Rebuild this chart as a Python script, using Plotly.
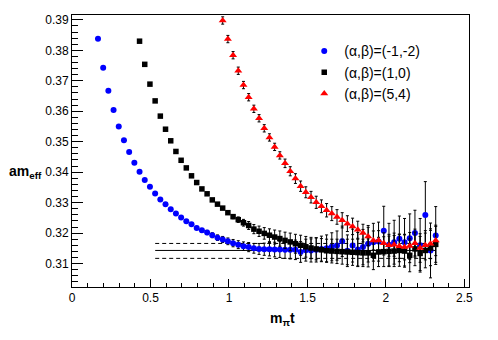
import plotly.graph_objects as go

# m_pi * t for timeslices t = 5 .. 70
mpi_t = [0.1655, 0.1986, 0.2317, 0.2648, 0.2979, 0.3310, 0.3641, 0.3972, 0.4303, 0.4634,
         0.4965, 0.5296, 0.5627, 0.5958, 0.6289, 0.6620, 0.6951, 0.7282, 0.7613, 0.7944,
         0.8275, 0.8606, 0.8937, 0.9268, 0.9599, 0.9930, 1.0261, 1.0592, 1.0923, 1.1254,
         1.1585, 1.1916, 1.2247, 1.2578, 1.2909, 1.3240, 1.3571, 1.3902, 1.4233, 1.4564,
         1.4895, 1.5226, 1.5557, 1.5888, 1.6219, 1.6550, 1.6881, 1.7212, 1.7543, 1.7874,
         1.8205, 1.8536, 1.8867, 1.9198, 1.9529, 1.9860, 2.0191, 2.0522, 2.0853, 2.1184,
         2.1515, 2.1846, 2.2177, 2.2508, 2.2839, 2.3170]

# (alpha,beta)=(-1,-2): t = 5 .. 70
blue_y = [0.3838, 0.3743, 0.3667, 0.3604, 0.3550, 0.3505, 0.3466, 0.3431, 0.3401, 0.3374,
          0.3352, 0.3330, 0.3310, 0.3295, 0.3278, 0.3264, 0.3251, 0.3239, 0.3229, 0.3217,
          0.3209, 0.3202, 0.3193, 0.3185, 0.3179, 0.3173, 0.3167, 0.3162, 0.3157, 0.3154,
          0.3150, 0.3148, 0.3147, 0.3147, 0.3146, 0.3146, 0.3145, 0.3145, 0.3145, 0.3138,
          0.3144, 0.3143, 0.3145, 0.3148, 0.3150, 0.3155, 0.3159, 0.3173, 0.3142, 0.3159,
          0.3146, 0.3154, 0.3165, 0.3170, 0.3172, 0.3208, 0.3162, 0.3170, 0.3181, 0.3170,
          0.3183, 0.3200, 0.3160, 0.3259, 0.3143, 0.3192]
blue_err = [0.0002, 0.0002, 0.0002, 0.0002, 0.0002, 0.0002, 0.0002, 0.0002, 0.0002, 0.0002,
            0.0002, 0.0002, 0.0002, 0.0002, 0.0002, 0.0002, 0.0002, 0.0002, 0.0004, 0.0005,
            0.0006, 0.0007, 0.0008, 0.0009, 0.0010, 0.0011, 0.0012, 0.0013, 0.0014, 0.0015,
            0.0016, 0.0018, 0.0020, 0.0022, 0.0024, 0.0026, 0.0028, 0.0030, 0.0032, 0.0034,
            0.0036, 0.0038, 0.0040, 0.0042, 0.0044, 0.0046, 0.0048, 0.0050, 0.0052, 0.0054,
            0.0056, 0.0058, 0.0060, 0.0062, 0.0064, 0.0080, 0.0070, 0.0072, 0.0075, 0.0078,
            0.0080, 0.0075, 0.0088, 0.0110, 0.0090, 0.0095]

# (alpha,beta)=(1,0): t = 13 .. 70
black_y = [0.3830, 0.3754, 0.3689, 0.3634, 0.3584, 0.3541, 0.3503, 0.3468, 0.3439, 0.3414,
           0.3388, 0.3366, 0.3345, 0.3329, 0.3309, 0.3295, 0.3282, 0.3267, 0.3254, 0.3244,
           0.3234, 0.3225, 0.3213, 0.3206, 0.3199, 0.3193, 0.3187, 0.3182, 0.3176, 0.3171,
           0.3165, 0.3160, 0.3155, 0.3151, 0.3148, 0.3145, 0.3142, 0.3141, 0.3140, 0.3139,
           0.3138, 0.3137, 0.3136, 0.3135, 0.3135, 0.3127, 0.3138, 0.3139, 0.3140, 0.3141,
           0.3143, 0.3141, 0.3127, 0.3148, 0.3133, 0.3143, 0.3151, 0.3163]
black_err = [0.0003, 0.0003, 0.0003, 0.0003, 0.0003, 0.0003, 0.0003, 0.0003, 0.0003, 0.0003,
             0.0003, 0.0003, 0.0003, 0.0003, 0.0003, 0.0003, 0.0003, 0.0005, 0.0007, 0.0009,
             0.0011, 0.0013, 0.0015, 0.0017, 0.0019, 0.0021, 0.0023, 0.0025, 0.0027, 0.0029,
             0.0031, 0.0033, 0.0034, 0.0035, 0.0036, 0.0037, 0.0038, 0.0039, 0.0040, 0.0041,
             0.0042, 0.0043, 0.0044, 0.0045, 0.0046, 0.0047, 0.0048, 0.0049, 0.0050, 0.0051,
             0.0052, 0.0053, 0.0054, 0.0055, 0.0056, 0.0057, 0.0058, 0.0059]

# (alpha,beta)=(5,4): t = 29 .. 70
red_y = [0.3898, 0.3837, 0.3784, 0.3733, 0.3686, 0.3646, 0.3608, 0.3577, 0.3544, 0.3514,
         0.3483, 0.3455, 0.3429, 0.3403, 0.3379, 0.3354, 0.3334, 0.3318, 0.3301, 0.3288,
         0.3275, 0.3264, 0.3253, 0.3242, 0.3231, 0.3222, 0.3211, 0.3200, 0.3189, 0.3176,
         0.3176, 0.3167, 0.3160, 0.3162, 0.3157, 0.3154, 0.3158, 0.3167, 0.3151, 0.3160,
         0.3165, 0.3176]
red_err = [0.0012, 0.0012, 0.0012, 0.0012, 0.0012, 0.0012, 0.0012, 0.0012, 0.0012, 0.0012,
           0.0012, 0.0012, 0.0014, 0.0015, 0.0016, 0.0017, 0.0018, 0.0019, 0.0020, 0.0021,
           0.0022, 0.0023, 0.0024, 0.0025, 0.0026, 0.0027, 0.0028, 0.0029, 0.0030, 0.0031,
           0.0032, 0.0034, 0.0036, 0.0038, 0.0040, 0.0042, 0.0044, 0.0046, 0.0047, 0.0048,
           0.0049, 0.0050]

# plateau fit band
fit_x = [0.530, 2.317]
fit_center = 0.3143
fit_upper = 0.3166
fit_lower = 0.3117

x_ticks = [0, 0.5, 1, 1.5, 2, 2.5]
x_ticklabels = ["0", "0.5", "1", "1.5", "2", "2.5"]

legend_names = ["(\u03b1,\u03b2)=(-1,-2)", "(\u03b1,\u03b2)=(1,0)", "(\u03b1,\u03b2)=(5,4)"]

FONT = "Liberation Sans, Arial, Helvetica, sans-serif"

fig = go.Figure()

for yv, dash in [(fit_upper, "4px,3px"), (fit_center, "solid"), (fit_lower, "4px,3px")]:
    fig.add_trace(go.Scatter(x=fit_x, y=[yv, yv], mode="lines",
                             line=dict(color="black", width=1, dash=dash),
                             showlegend=False, hoverinfo="skip"))

series = [
    (mpi_t, blue_y, blue_err, "#0000ff", "circle", 6),
    (mpi_t[8:], black_y, black_err, "#000000", "square", 5.5),
    (mpi_t[24:], red_y, red_err, "#ff0000", "triangle-up", 7),
]
for (xs, ys, es, col, sym, sz), name in zip(series, legend_names):
    fig.add_trace(go.Scatter(
        x=xs, y=ys, mode="markers", name=name,
        marker=dict(color=col, symbol=sym, size=sz, line=dict(width=0)),
        error_y=dict(type="data", array=es, color="black", thickness=1, width=1.5),
    ))

# the page body adds an 8px offset, so margins are compensated
fig.update_layout(
    width=498, height=340,
    margin=dict(l=64, r=37, t=7, b=61),
    paper_bgcolor="white", plot_bgcolor="white",
    font=dict(family=FONT, size=12, color="black"),
    showlegend=True,
    legend=dict(x=0.585, y=0.925, xanchor="left", yanchor="top",
                bgcolor="rgba(0,0,0,0)", font=dict(size=14, family=FONT),
                itemsizing="trace", tracegroupgap=0),
    xaxis=dict(range=[0, 2.529], showgrid=False, zeroline=False, automargin=False,
               showline=True, linecolor="black", linewidth=1, mirror=True,
               ticks="inside", ticklen=8, tickwidth=1, tickcolor="black",
               tickvals=x_ticks, ticktext=x_ticklabels,
               minor=dict(dtick=0.1, tick0=0, ticks="inside", ticklen=4, tickcolor="black"),
               tickfont=dict(size=12)),
    yaxis=dict(range=[0.3023, 0.3916], showgrid=False, zeroline=False, automargin=False,
               showline=True, linecolor="black", linewidth=1, mirror=True,
               ticks="inside", ticklen=11, tickwidth=1, tickcolor="black",
               dtick=0.01, tick0=0.30, tickformat=".2f",
               minor=dict(dtick=0.002, tick0=0.30, ticks="inside", ticklen=6, tickcolor="black"),
               tickfont=dict(size=12)),
    annotations=[
        dict(text="<b>am<sub>eff</sub></b>", xref="paper", yref="paper",
             x=-0.118, y=0.423, xanchor="center", yanchor="middle",
             showarrow=False, font=dict(size=14, family=FONT)),
        dict(text="<b>m<sub>\u03c0</sub>t</b>", xref="paper", yref="paper",
             x=0.531, y=-0.116, xanchor="center", yanchor="middle",
             showarrow=False, font=dict(size=14, family=FONT)),
    ],
)

fig.write_html("out.html")
